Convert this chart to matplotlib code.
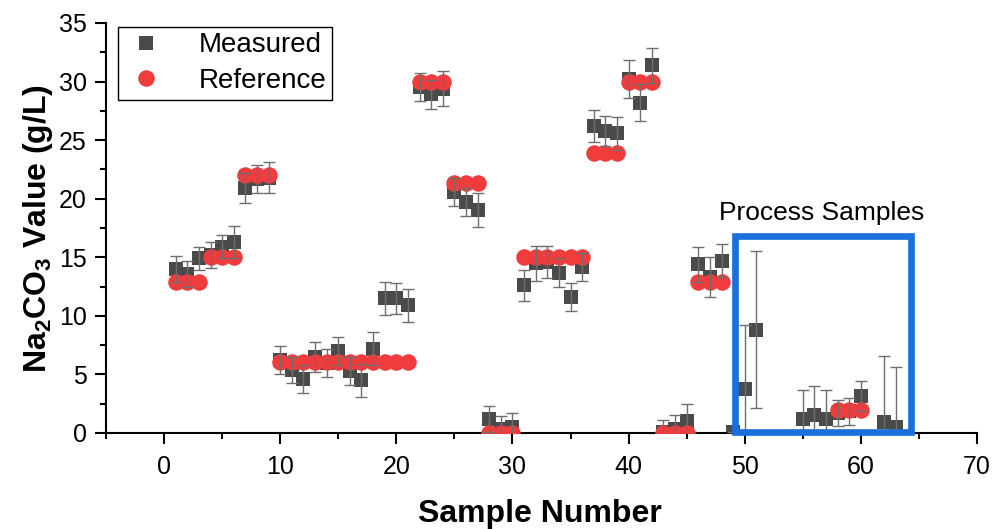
import matplotlib
matplotlib.use("Agg")
import matplotlib.pyplot as plt
from matplotlib.lines import Line2D
from matplotlib.patches import Rectangle
from matplotlib.ticker import MultipleLocator

plt.rcParams['font.family'] = ['Liberation Sans', 'DejaVu Sans']
plt.rcParams['mathtext.fontset'] = 'custom'
plt.rcParams['mathtext.rm'] = 'Liberation Sans'
plt.rcParams['mathtext.bf'] = 'Liberation Sans:bold'
plt.rcParams['mathtext.default'] = 'bf'

# ---- data ----
measured_x = [1, 2, 3, 4, 5, 6, 7, 8, 9,
              10, 11, 12, 13, 14, 15, 16, 17, 18, 19, 20, 21,
              22, 23, 24, 25, 26, 27, 28, 29, 30,
              31, 32, 33, 34, 35, 36, 37, 38, 39, 40, 41, 42,
              43, 44, 45, 46, 47, 48, 49, 50, 51,
              55, 56, 57, 58, 59, 60, 62, 63]
measured_y = [14.0, 13.6, 14.9, 15.2, 15.9, 16.3, 20.9, 21.7, 21.8,
              6.2, 5.4, 4.6, 6.5, 6.0, 7.0, 5.3, 4.5, 7.2, 11.5, 11.5, 10.9,
              29.5, 28.9, 29.4, 20.6, 19.7, 19.0, 1.2, 0.35, 0.55,
              12.6, 14.5, 14.6, 13.7, 11.6, 14.2, 26.2, 25.8, 25.6, 30.2, 28.2, 31.4,
              0.1, 0.3, 1.0, 14.4, 13.3, 14.7, 0.05, 3.75, 8.8,
              1.2, 1.55, 1.2, 1.7, 1.85, 3.15, 0.95, 0.5]
measured_err = [1.1, 1.1, 1.0, 1.1, 1.0, 1.4, 1.3, 1.2, 1.3,
                1.2, 1.1, 1.2, 1.3, 1.2, 1.2, 1.2, 1.4, 1.4, 1.4, 1.3, 1.4,
                1.2, 1.2, 1.5, 1.2, 1.2, 1.45, 1.1, 1.1, 1.15,
                1.3, 1.5, 1.4, 1.2, 1.2, 1.2, 1.4, 1.3, 1.4, 1.6, 1.6, 1.5,
                1.0, 1.2, 1.5, 1.5, 1.7, 1.4, 0.0, 5.5, 6.7,
                2.45, 2.5, 2.5, 1.1, 1.15, 1.3, 5.6, 5.1]

reference_x = [1, 2, 3, 4, 5, 6, 7, 8, 9,
               10, 11, 12, 13, 14, 15, 16, 17, 18, 19, 20, 21,
               22, 23, 24, 25, 26, 27, 28, 29, 30,
               31, 32, 33, 34, 35, 36, 37, 38, 39, 40, 41, 42,
               43, 44, 45, 46, 47, 48, 58, 59, 60]
reference_y = [12.85, 12.85, 12.85, 15.0, 15.0, 15.0, 22.0, 22.0, 22.0,
               6.1, 6.1, 6.1, 6.1, 6.1, 6.1, 6.1, 6.1, 6.1, 6.1, 6.1, 6.1,
               30.0, 30.0, 30.0, 21.35, 21.35, 21.35, 0.0, 0.0, 0.0,
               15.0, 15.0, 15.0, 15.0, 15.0, 15.0, 23.9, 23.9, 23.9, 30.0, 30.0, 30.0,
               0.0, 0.0, 0.0, 12.85, 12.85, 12.85, 2.0, 2.0, 2.0]

x_ticks = [0, 10, 20, 30, 40, 50, 60, 70]
y_ticks = [0, 5, 10, 15, 20, 25, 30, 35]

# process samples box (data coords)
box_x0, box_x1 = 49.2, 64.35
box_y0, box_y1 = 0.1, 16.8

# ---- figure ----
fig = plt.figure(figsize=(9.92, 5.29), dpi=100)
ax = fig.add_axes([106/992, 96/529, 871/992, 410/529])

sq_color = '#4a4a4a'
ref_color = '#f03c3c'
err_color = '#6e6e6e'

ax.plot(measured_x, measured_y, linestyle='none', marker='s', ms=9.7,
        color=sq_color, mec=sq_color, mew=0, zorder=2)
ax.plot(reference_x, reference_y, linestyle='none', marker='o', ms=11.9,
        color=ref_color, mec=ref_color, mew=0, zorder=3)
ax.errorbar(measured_x, measured_y, yerr=measured_err, fmt='none',
            ecolor=err_color, elinewidth=1.0, capsize=4.5, capthick=1.0, zorder=4)

ax.add_patch(Rectangle((box_x0, box_y0), box_x1 - box_x0, box_y1 - box_y0,
                       fill=False, edgecolor='#1a6fdc', linewidth=4.8, zorder=5,
                       clip_on=False))
ax.text(56.6, 18.8, 'Process Samples', fontsize=19, ha='center', va='center')

ax.set_xlim(-5, 70)
ax.set_ylim(0, 35)
ax.set_xticks(x_ticks)
ax.set_yticks(y_ticks)
ax.xaxis.set_minor_locator(MultipleLocator(5))
ax.yaxis.set_minor_locator(MultipleLocator(2.5))
for s in ['top', 'right']:
    ax.spines[s].set_visible(False)
for s in ['left', 'bottom']:
    ax.spines[s].set_linewidth(1.5)
ax.tick_params(which='major', direction='out', length=8, width=1.5,
               labelsize=18, pad=6)
ax.tick_params(axis='x', which='major', pad=8)
ax.tick_params(which='minor', direction='out', length=4, width=1.5)

ax.set_xlabel('Sample Number', fontsize=23, fontweight='bold')
ax.set_ylabel('Na$_2$CO$_3$ Value (g/L)', fontsize=23, fontweight='bold')
ax.xaxis.set_label_coords(0.498, -0.160)
ax.yaxis.set_label_coords(-0.058, 0.5)

handles = [Line2D([], [], linestyle='none', marker='s', ms=9.7, color=sq_color, mew=0),
           Line2D([], [], linestyle='none', marker='o', ms=11.9, color=ref_color, mew=0)]
leg = ax.legend(handles, ['Measured', 'Reference'], loc='upper left',
                bbox_to_anchor=(118/992, 1 - 26.7/529), bbox_transform=fig.transFigure,
                fontsize=20, frameon=True, fancybox=False, framealpha=1,
                edgecolor='black', borderpad=0.2, labelspacing=0.35,
                handlelength=1.6, handletextpad=1.1, borderaxespad=0)
leg.get_frame().set_linewidth(1.0)

fig.savefig('out.png', dpi=100)
